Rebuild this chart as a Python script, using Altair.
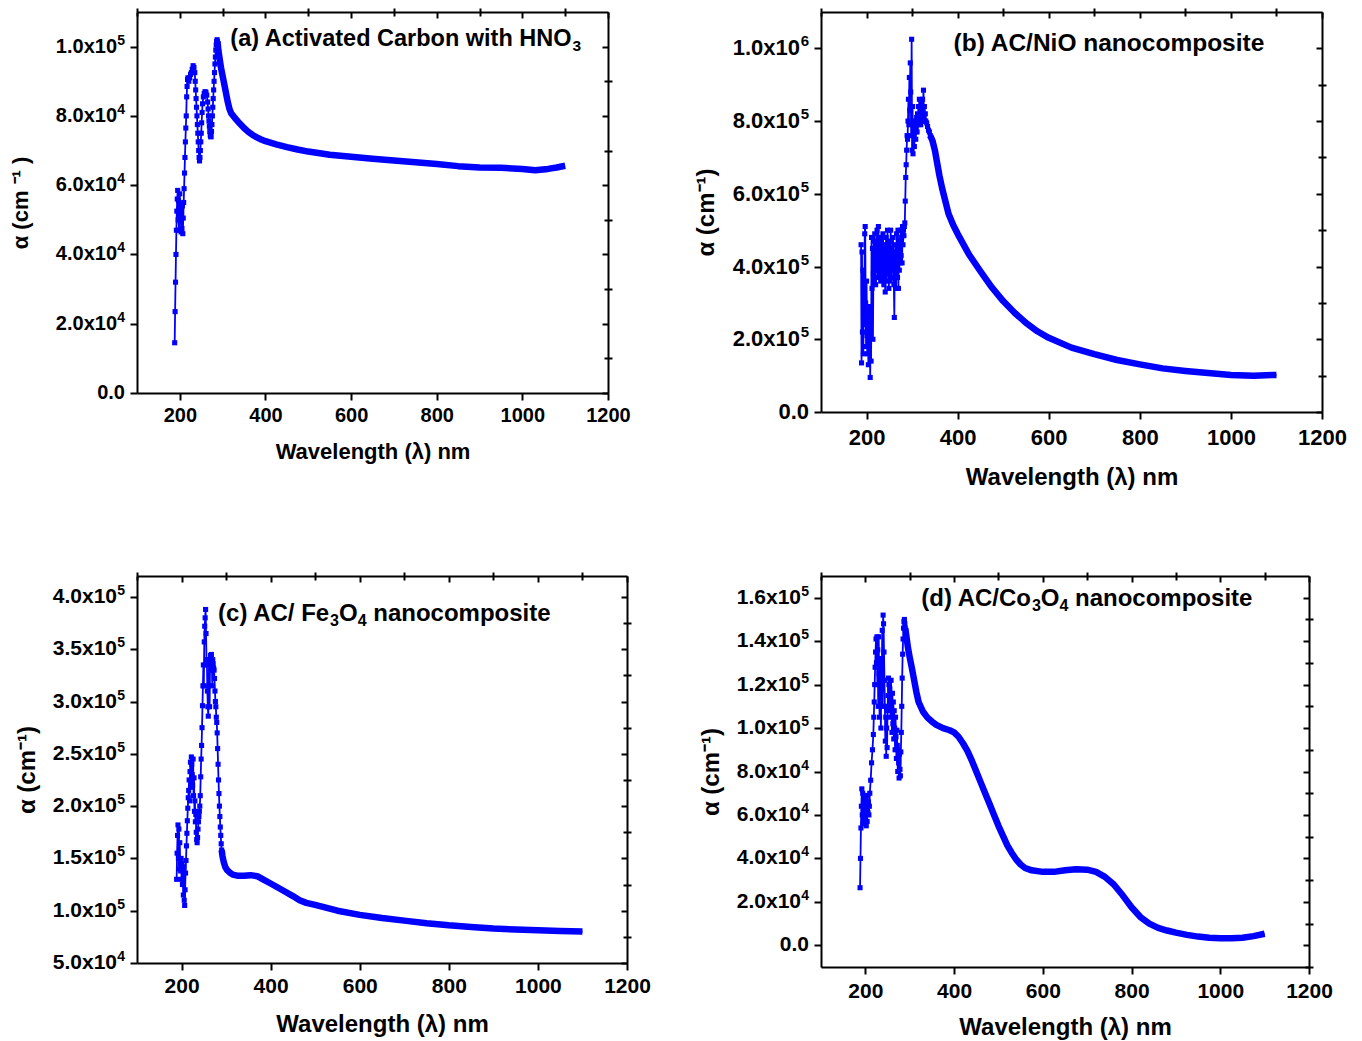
import altair as alt
import pandas as pd

BLUE = "#0000ff"
FONT = "Liberation Sans"

X_MAJOR = [200, 400, 600, 800, 1000, 1200]
X_MINOR = [100, 300, 500, 700, 900, 1100]

# ---------------- (a) Activated Carbon with HNO3 ----------------
A_UV_WL = [188, 189, 190, 191, 192, 193, 194, 195, 196, 197, 198, 199, 200, 201, 202, 203, 204, 205,
           206, 207, 208, 209, 210, 211, 212, 213, 214, 215, 216, 217, 218, 219, 221, 223, 225, 227,
           229, 231, 233, 235, 236, 237, 238, 239, 240, 241, 242, 243, 244, 245, 246, 247, 248, 249,
           250, 251, 252, 253, 255, 257, 259, 261, 263, 265, 266, 267, 268, 269, 270, 271, 272, 273,
           274, 275, 276, 277, 278, 279, 280, 281, 282, 283, 284, 285, 286, 287, 288]
A_UV_ALPHA = [14500, 23500, 32000, 40000, 47000, 52500, 56000, 58500, 50000, 55500, 47000, 53000,
              57500, 49500, 54500, 46500, 51500, 47500, 54000, 46000, 50500, 55000, 59000, 63500,
              68000, 72500, 76500, 80000, 85500, 88500, 90500, 91000, 90000, 91000, 92000, 92500,
              93500, 94500, 94000, 92500, 90000, 87500, 85000, 82500, 80000, 77500, 75000, 72500,
              70000, 68000, 67000, 68000, 70000, 72500, 75000, 78000, 81000, 83500, 85500, 86500,
              87000, 86800, 86000, 84000, 82000, 80000, 78500, 77000, 75500, 74500, 74000, 74000,
              75500, 77500, 80000, 82500, 85000, 87500, 90000, 92500, 95000, 97000, 99000, 100500,
              101500, 102000, 101500]
A_VIS_WL = [288, 290, 293, 296, 300, 304, 308, 312, 316, 320, 325, 330, 340, 350, 360, 370, 380, 390,
            400, 425, 450, 475, 500, 550, 600, 650, 700, 750, 800, 850, 900, 950, 1000, 1030, 1060,
            1080, 1100]
A_VIS_ALPHA = [101500, 99000, 96500, 94000, 91500, 89000, 86500, 84000, 82000, 80800, 80000, 79200,
               77800, 76500, 75400, 74500, 73800, 73200, 72700, 71800, 71000, 70300, 69700, 68800,
               68200, 67600, 67100, 66600, 66100, 65500, 65100, 65000, 64700, 64300, 64700, 65100,
               65600]
A_Y_TICKS = [0, 20000, 40000, 60000, 80000, 100000]
A_Y_BASE = ["0.0", "2.0x10", "4.0x10", "6.0x10", "8.0x10", "1.0x10"]
A_Y_SUP = ["", "4", "4", "4", "4", "5"]
A_Y_MINOR = [10000, 30000, 50000, 70000, 90000]

# ---------------- (b) AC/NiO nanocomposite ----------------
B_UV_WL = list(range(188, 331)) + [332, 334, 336, 338, 340]
B_UV_ALPHA = [460000, 135000, 440000, 220000, 390000, 160000, 350000, 240000, 490000, 510000,
              300000, 180000, 360000, 210000, 160000, 280000, 130000, 250000, 170000, 290000,
              95000, 220000, 140000, 480000, 340000, 450000, 200000, 380000, 470000, 360000,
              490000, 410000, 350000, 460000, 390000, 500000, 430000, 370000, 510000, 440000,
              380000, 480000, 400000, 360000, 470000, 390000, 450000, 370000, 490000, 420000,
              350000, 460000, 400000, 330000, 440000, 480000, 360000, 410000, 500000, 380000,
              430000, 340000, 470000, 400000, 360000, 500000, 420000, 370000, 450000, 390000,
              480000, 410000, 350000, 260000, 440000, 380000, 460000, 340000, 490000, 420000,
              370000, 500000, 340000, 450000, 390000, 470000, 410000, 500000, 430000, 480000,
              410000, 510000, 460000, 500000, 485000, 510000, 520000, 580000, 645000, 680000,
              720000, 760000, 750000, 800000, 860000, 790000, 920000, 830000, 960000, 880000,
              760000, 1025000, 720000, 840000, 710000, 760000, 790000, 730000, 770000, 800000,
              750000, 780000, 810000, 770000, 820000, 790000, 840000, 800000, 860000, 810000,
              830000, 790000, 850000, 820000, 800000, 860000, 830000, 885000, 810000, 840000,
              800000, 820000, 800000, 795000, 785000, 775000, 770000, 760000]
B_VIS_WL = [340, 345, 350, 355, 360, 366, 370, 380, 390, 400, 425, 450, 475, 500, 525, 550, 575, 600,
            650, 700, 750, 800, 850, 900, 950, 1000, 1050, 1100]
B_VIS_ALPHA = [760000, 745000, 720000, 685000, 650000, 615000, 595000, 545000, 515000, 490000,
               433000, 387000, 343000, 305000, 273000, 245000, 222000, 204000, 177000, 159000,
               143000, 131000, 120000, 113000, 107000, 102000, 100000, 102000]
B_Y_TICKS = [0, 200000, 400000, 600000, 800000, 1000000]
B_Y_BASE = ["0.0", "2.0x10", "4.0x10", "6.0x10", "8.0x10", "1.0x10"]
B_Y_SUP = ["", "5", "5", "5", "5", "6"]
B_Y_MINOR = [100000, 300000, 500000, 700000, 900000]

# ---------------- (c) AC/Fe3O4 nanocomposite ----------------
C_UV_WL = list(range(189, 291))
C_UV_ALPHA = [130000, 155000, 172000, 182000, 150000, 178000, 140000, 165000, 145000, 138000,
              150000, 130000, 145000, 125000, 138000, 115000, 142000, 110000, 105000, 120000,
              136000, 148000, 162000, 174000, 186000, 198000, 208000, 215000, 225000, 205000,
              233000, 242000, 218000, 247000, 240000, 230000, 220000, 245000, 210000, 227000,
              195000, 205000, 185000, 192000, 175000, 168000, 165000, 170000, 178000, 185000,
              190000, 195000, 200000, 210000, 228000, 245000, 258000, 275000, 296000, 315000,
              335000, 315000, 357000, 372000, 380000, 388000, 365000, 340000, 335000, 310000,
              295000, 286000, 315000, 340000, 295000, 338000, 344000, 330000, 345000, 338000,
              315000, 340000, 336000, 332000, 330000, 322000, 310000, 300000, 295000, 285000,
              280000, 270000, 255000, 240000, 225000, 212000, 200000, 190000, 180000, 172000,
              164000, 158000]
C_VIS_WL = [290, 292, 295, 298, 302, 308, 315, 325, 340, 355, 370, 385, 400, 425, 450, 465, 480, 500,
            550, 600, 650, 700, 750, 800, 850, 900, 950, 1000, 1050, 1100]
C_VIS_ALPHA = [158000, 152000, 146000, 142000, 139000, 136500, 134500, 133500, 133500, 134000,
               133000, 129500, 126000, 120000, 114000, 110000, 107500, 105500, 100000, 96000,
               93000, 90500, 88000, 86000, 84500, 83000, 82000, 81200, 80500, 80000]
C_Y_TICKS = [50000, 100000, 150000, 200000, 250000, 300000, 350000, 400000]
C_Y_BASE = ["5.0x10", "1.0x10", "1.5x10", "2.0x10", "2.5x10", "3.0x10", "3.5x10", "4.0x10"]
C_Y_SUP = ["4", "5", "5", "5", "5", "5", "5", "5"]
C_Y_MINOR = [75000, 125000, 175000, 225000, 275000, 325000, 375000]

# ---------------- (d) AC/Co3O4 nanocomposite ----------------
D_UV_WL = list(range(188, 211)) + [212, 214, 216, 218] + list(range(219, 291))
D_UV_ALPHA = [26500, 40000, 54000, 64000, 72000, 60000, 70000, 56000, 66000, 62000, 58000, 68000,
              60000, 65000, 55000, 63000, 57000, 69000, 61000, 66000, 60000, 64000, 70000,
              76000, 84000, 90000, 97000,
              105000, 112000, 120000, 128000, 135000, 141000, 130000, 142000, 120000, 136000,
              110000, 142000, 125000, 105000, 132000, 115000, 100000, 130000, 118000, 145000,
              110000, 152000, 148000, 135000, 122000, 110000, 94000, 105000, 87000, 100000,
              91000, 108000, 115000, 123000, 120000, 110000, 118000, 112000, 105000, 122000,
              110000, 98000, 116000, 102000, 112000, 95000, 108000, 100000, 90000, 105000,
              96000, 86000, 99000, 92000, 80000, 90000, 84000, 77000, 88000, 81000, 78000,
              89000, 98000, 110000, 123000, 134000, 141000, 146000, 149000, 150000, 148000,
              146000]
D_VIS_WL = [290, 292, 296, 300, 305, 310, 315, 320, 330, 340, 350, 360, 375, 390, 400, 410, 420, 430,
            440, 450, 460, 470, 480, 490, 500, 510, 520, 530, 540, 550, 560, 575, 600, 625, 650, 675,
            700, 720, 740, 760, 780, 800, 820, 840, 860, 880, 900, 925, 950, 975, 1000, 1025, 1050,
            1075, 1100]
D_VIS_ALPHA = [146000, 143000, 137000, 132500, 127500, 122000, 116500, 112000, 107500, 104800,
               103000, 101500, 100000, 99000, 98000, 96000, 93000, 89500, 85000, 80000, 75000,
               70000, 65000, 60000, 55000, 50500, 46000, 42500, 39500, 37200, 35600, 34500, 33800,
               33800, 34500, 35000, 34800, 33800, 31500, 28000, 23000, 17500, 13000, 10000, 8000,
               6800, 5800, 4800, 4000, 3500, 3200, 3200, 3500, 4200, 5300]
D_Y_TICKS = [0, 20000, 40000, 60000, 80000, 100000, 120000, 140000, 160000]
D_Y_BASE = ["0.0", "2.0x10", "4.0x10", "6.0x10", "8.0x10", "1.0x10", "1.2x10", "1.4x10", "1.6x10"]
D_Y_SUP = ["", "4", "4", "4", "4", "5", "5", "5", "5"]
D_Y_MINOR = [-10000, 10000, 30000, 50000, 70000, 90000, 110000, 130000, 150000]

# panel annotations: text pieces and whether each piece is a subscript
NOTE_A = ["(a) Activated Carbon with HNO", "3"]
NOTE_B = ["(b) AC/NiO nanocomposite"]
NOTE_C = ["(c) AC/ Fe", "3", "O", "4", " nanocomposite"]
NOTE_D = ["(d) AC/Co", "3", "O", "4", " nanocomposite"]
SUB_A = [False, True]
SUB_B = [False]
SUB_C = [False, True, False, True, False]
SUB_D = [False, True, False, True, False]
NOTE_WL = [318, 391, 282, 326]
NOTE_ALPHA = [102300, 1011000, 383600, 159500]

# Arial/Liberation Sans Bold advance widths (per 1000 em) used to lay out text pieces
ADV = {" ": 278, "(": 333, ")": 333, "/": 278, "a": 556, "b": 611, "c": 556, "d": 611,
       "e": 556, "h": 611, "i": 278, "m": 889, "n": 611, "o": 611, "p": 611, "r": 389,
       "s": 556, "t": 333, "v": 556, "w": 778, "A": 722, "C": 722, "F": 611, "H": 722,
       "N": 722, "O": 778, "3": 556, "4": 556}


def text_width(t, fs):
    return sum(ADV.get(ch, 556) for ch in t) * fs / 1000.0


def note_frames(pieces, subs, wl0, a0, w, nfs, sfs):
    rows_main, rows_sub = [], []
    off = 0.0
    for t, is_sub in zip(pieces, subs):
        fs = sfs if is_sub else nfs
        lead = len(t) - len(t.lstrip(" "))
        x = wl0 + (off + text_width(" " * lead, fs)) * 1100.0 / w
        (rows_sub if is_sub else rows_main).append({"wl": x, "alpha": a0, "t": t.strip()})
        off += text_width(t, fs)
    return pd.DataFrame(rows_main), pd.DataFrame(rows_sub)


def panel(uv_wl, uv_a, vis_wl, vis_a, ydom, yt, ybase, ysup, ym, w, h, pieces, subs, note_i,
          ytitle, s):
    df_line = pd.DataFrame({"wl": uv_wl + vis_wl[1:], "alpha": uv_a + vis_a[1:]})
    df_uv = pd.DataFrame({"wl": uv_wl, "alpha": uv_a})
    df_vis = pd.DataFrame({"wl": vis_wl, "alpha": vis_a})
    df_lab = pd.DataFrame({"alpha": yt, "base": ybase, "sup": ysup})
    df_nm, df_ns = note_frames(pieces, subs, NOTE_WL[note_i], NOTE_ALPHA[note_i], w,
                               s["nfs"], s["nsfs"])
    xs = alt.Scale(domain=[100, 1200], nice=False, zero=False)
    ys = alt.Scale(domain=ydom, nice=False, zero=False)
    common = dict(grid=False, tickColor="black", labelFlush=False, labelOverlap=False)
    dom_on = dict(domain=True, domainColor="black", domainWidth=2)
    dom_off = dict(domain=False)
    x_main = alt.Axis(values=X_MAJOR, format="d", title="Wavelength (λ) nm", tickSize=7,
                      tickWidth=2, labelPadding=s["xlp"], minExtent=34, maxExtent=34,
                      titlePadding=s["xtp"], labelFont=FONT, labelFontSize=s["tfs"],
                      labelFontWeight="bold", labelColor="black", titleFont=FONT,
                      titleFontSize=s["xts"], titleFontWeight="bold", titleColor="black",
                      **common, **dom_on)
    y_main = alt.Axis(values=yt, labels=False, title=ytitle, tickSize=7,
                      tickWidth=2, minExtent=90, maxExtent=90,
                      titlePadding=s["ytp"], titleFont=FONT,
                      titleFontSize=s["yts"], titleFontWeight="bold", titleColor="black",
                      **common, **dom_on)
    x_minor = alt.Axis(values=X_MINOR, labels=False, title=None, tickSize=4, tickWidth=2,
                       **common, **dom_off)
    y_minor = alt.Axis(values=ym, labels=False, title=None, tickSize=4, tickWidth=2,
                       **common, **dom_off)
    x_top = alt.Axis(orient="bottom", offset=-h, values=X_MAJOR, labels=False, title=None,
                     tickSize=6, tickWidth=2, **common, **dom_on)
    y_right = alt.Axis(orient="left", offset=-w, values=yt, labels=False, title=None,
                       tickSize=6, tickWidth=2, **common, **dom_on)
    x_top_m = alt.Axis(orient="bottom", offset=-h, values=X_MINOR, labels=False, title=None,
                       tickSize=4, tickWidth=2, **common, **dom_off)
    y_right_m = alt.Axis(orient="left", offset=-w, values=ym, labels=False, title=None,
                         tickSize=4, tickWidth=2, **common, **dom_off)

    thin = alt.Chart(df_line).mark_line(color=BLUE, strokeWidth=1.8).encode(
        x=alt.X("wl:Q", scale=xs, axis=x_main), y=alt.Y("alpha:Q", scale=ys, axis=y_main))
    thick = alt.Chart(df_vis).mark_line(color=BLUE, strokeWidth=6.5, strokeJoin="round").encode(
        x=alt.X("wl:Q", scale=xs, axis=x_top), y=alt.Y("alpha:Q", scale=ys, axis=y_right))
    squares = alt.Chart(df_uv).mark_point(shape="square", filled=True, size=26, color=BLUE,
                                          opacity=1).encode(
        x=alt.X("wl:Q", scale=xs, axis=x_minor), y=alt.Y("alpha:Q", scale=ys, axis=y_minor))
    txt = dict(font=FONT, fontWeight="bold", color="black")
    note_main = alt.Chart(df_nm).mark_text(align="left", baseline="middle",
                                           fontSize=s["nfs"], **txt).encode(
        x=alt.X("wl:Q", scale=xs, axis=x_top_m), y=alt.Y("alpha:Q", scale=ys, axis=y_right_m),
        text="t:N")
    layers = [thin, thick, squares, note_main]
    if len(df_ns):
        note_sub = alt.Chart(df_ns).mark_text(align="left", baseline="middle", dy=7,
                                              fontSize=s["nsfs"], **txt).encode(
            x=alt.X("wl:Q", scale=xs, axis=None), y=alt.Y("alpha:Q", scale=ys, axis=None),
            text="t:N")
        layers.append(note_sub)
    lab = dict(baseline="middle", align="right", **txt)
    lab_base = alt.Chart(df_lab).transform_filter("datum.sup != ''").mark_text(
        dx=-s["bdx"], fontSize=s["tfs"], **lab).encode(
        x=alt.value(0), y=alt.Y("alpha:Q", scale=ys, axis=None), text="base:N")
    lab_plain = alt.Chart(df_lab).transform_filter("datum.sup == ''").mark_text(
        dx=-12, fontSize=s["tfs"], **lab).encode(
        x=alt.value(0), y=alt.Y("alpha:Q", scale=ys, axis=None), text="base:N")
    lab_sup = alt.Chart(df_lab).transform_filter("datum.sup != ''").mark_text(
        dx=-12, dy=-s["sdy"], fontSize=s["sfs"], **lab).encode(
        x=alt.value(0), y=alt.Y("alpha:Q", scale=ys, axis=None), text="sup:N")
    layers += [lab_base, lab_plain, lab_sup]
    return alt.layer(*layers).resolve_axis(
        x="independent", y="independent").properties(width=w, height=h)


pa = panel(A_UV_WL, A_UV_ALPHA, A_VIS_WL, A_VIS_ALPHA, [0, 110000], A_Y_TICKS, A_Y_BASE,
           A_Y_SUP, A_Y_MINOR, 471, 381, NOTE_A, SUB_A, 0, "α (cm ⁻¹ )",
           dict(xlp=5, xtp=14, tfs=20, xts=22, ytp=15, yts=22, nfs=23.5, nsfs=15.5, bdx=20,
                sfs=14, sdy=6))
pb = panel(B_UV_WL, B_UV_ALPHA, B_VIS_WL, B_VIS_ALPHA, [0, 1100000], B_Y_TICKS, B_Y_BASE,
           B_Y_SUP, B_Y_MINOR, 501, 400, NOTE_B, SUB_B, 1, "α (cm⁻¹)",
           dict(xlp=8, xtp=19, tfs=22, xts=24, ytp=13, yts=24, nfs=24.5, nsfs=16, bdx=21,
                sfs=15, sdy=7))
pc = panel(C_UV_WL, C_UV_ALPHA, C_VIS_WL, C_VIS_ALPHA, [50000, 420000], C_Y_TICKS, C_Y_BASE,
           C_Y_SUP, C_Y_MINOR, 490, 387, NOTE_C, SUB_C, 2, "α (cm⁻¹)",
           dict(xlp=5, xtp=15, tfs=21, xts=24, ytp=8, yts=24, nfs=24, nsfs=16, bdx=20,
                sfs=14, sdy=6))
pdd = panel(D_UV_WL, D_UV_ALPHA, D_VIS_WL, D_VIS_ALPHA, [-10000, 170000], D_Y_TICKS, D_Y_BASE,
            D_Y_SUP, D_Y_MINOR, 488, 391, NOTE_D, SUB_D, 3, "α (cm⁻¹)",
            dict(xlp=6, xtp=14, tfs=21, xts=24, ytp=8, yts=24, nfs=24, nsfs=16, bdx=20,
                 sfs=14, sdy=6))

chart = alt.concat(pa, pb, pc, pdd, columns=2, spacing={"row": 164, "column": 194},
                   bounds="flush", align="each").properties(
    padding={"left": 0, "top": -2, "right": 5, "bottom": 0}
).configure_view(stroke="transparent").configure(background="white")

chart.save("out.html", embed_options={"renderer": "svg", "actions": False})
